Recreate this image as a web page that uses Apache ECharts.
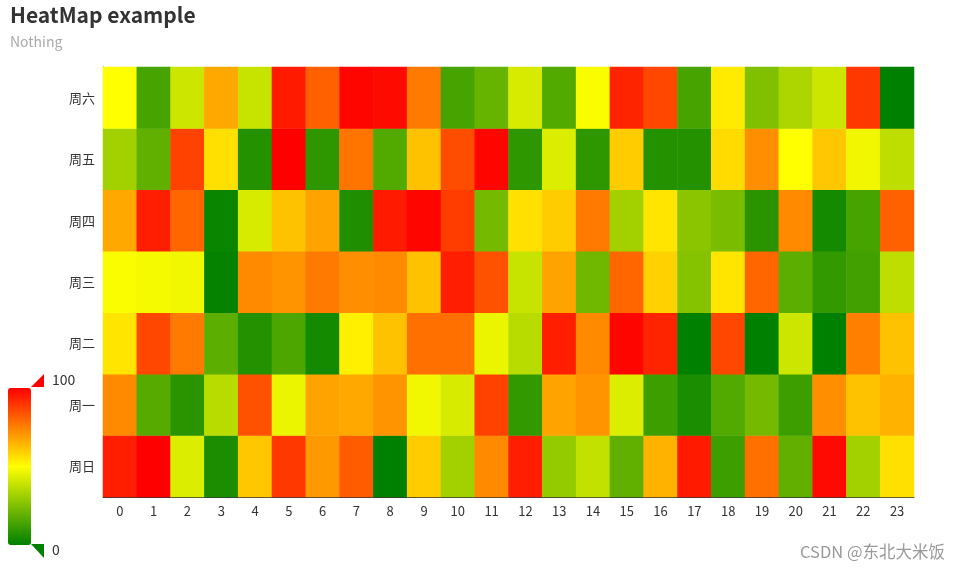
<!DOCTYPE html>
<html>
<head>
<meta charset="utf-8">
<script src="https://cdn.jsdelivr.net/npm/echarts@6/dist/echarts.min.js"></script>
<style>html,body{margin:0;padding:0;background:#fff}#main{width:961px;height:569px}</style>
</head>
<body>
<div id="main"></div>
<script>
var hours = ['0','1','2','3','4','5','6','7','8','9','10','11','12','13','14','15','16','17','18','19','20','21','22','23'];
var days = ['周日','周一','周二','周三','周四','周五','周六'];

var sun = [94,100,43,5,61,89,70,82,0,60,32,73,94,29,38,19,65,95,12,78,19,98,32,56];
var mon = [73,17,8,36,84,46,68,67,71,47,42,87,10,68,71,43,12,5,16,23,12,72,62,65];
var tue = [55,86,76,18,7,15,4,53,62,78,78,46,36,94,73,99,93,0,86,0,40,0,75,62];
var wed = [49,48,47,1,73,71,76,72,73,62,94,84,39,68,22,80,59,26,55,80,18,10,13,37];
var thu = [67,94,80,2,42,62,68,6,95,99,88,23,56,60,76,32,55,27,24,8,73,4,14,81];
var fri = [32,19,87,56,7,100,9,77,16,62,85,99,9,43,9,60,7,7,57,72,50,61,47,37];
var sat = [50,14,40,67,39,95,81,99,98,76,14,20,42,16,49,93,86,14,54,25,34,40,89,0];

var scaleMin = 0;
var scaleMax = 100;
var scaleColors = ['green', 'yellow', 'red'];

var rows = [sun, mon, tue, wed, thu, fri, sat];
var data = [];
rows.forEach(function (row, y) {
  row.forEach(function (v, x) { data.push([x, y, v]); });
});

var chart = echarts.init(document.getElementById('main'));
chart.setOption({
  animation: false,
  textStyle: { fontFamily: '"Noto Sans CJK SC", "Noto Sans", sans-serif' },
  title: {
    text: 'HeatMap example',
    subtext: 'Nothing',
    left: 5,
    top: 0,
    textStyle: { fontSize: 21, fontWeight: 'bold', color: '#333' },
    subtextStyle: { fontSize: 14, color: '#aaa' },
    itemGap: 9
  },
  grid: { left: 103, right: 47, top: 67, bottom: 72 },
  xAxis: {
    type: 'category',
    data: hours,
    axisLine: { lineStyle: { color: '#333' } },
    axisTick: { lineStyle: { color: '#333' } },
    axisLabel: { color: '#333', fontSize: 13 }
  },
  yAxis: {
    type: 'category',
    data: days,
    axisLine: { lineStyle: { color: '#333' } },
    axisTick: { lineStyle: { color: '#333' } },
    axisLabel: { color: '#333', fontSize: 13 }
  },
  visualMap: {
    min: scaleMin,
    max: scaleMax,
    calculable: false,
    orient: 'vertical',
    left: -7,
    bottom: 9,
    itemWidth: 23,
    itemHeight: 157,
    inRange: { color: scaleColors }
  },
  graphic: [
    { type: 'polygon', z: 100, shape: { points: [[31, 387], [44, 387], [44, 374]] }, style: { fill: 'red' } },
    { type: 'polygon', z: 100, shape: { points: [[31, 544], [44, 544], [44, 558]] }, style: { fill: 'green' } },
    { type: 'text', z: 100, x: 52, y: 380, style: { text: String(scaleMax), fill: '#333', font: '14px "Noto Sans CJK SC", sans-serif', verticalAlign: 'middle' } },
    { type: 'text', z: 100, x: 52, y: 550, style: { text: String(scaleMin), fill: '#333', font: '14px "Noto Sans CJK SC", sans-serif', verticalAlign: 'middle' } },
    {
      type: 'text',
      right: 16,
      bottom: 9,
      style: { text: 'CSDN @东北大米饭', fill: '#999', font: '16.5px "Noto Sans CJK SC", sans-serif' }
    }
  ],
  series: [{
    type: 'heatmap',
    data: data,
    label: { show: false }
  }]
});
</script>
</body>
</html>
